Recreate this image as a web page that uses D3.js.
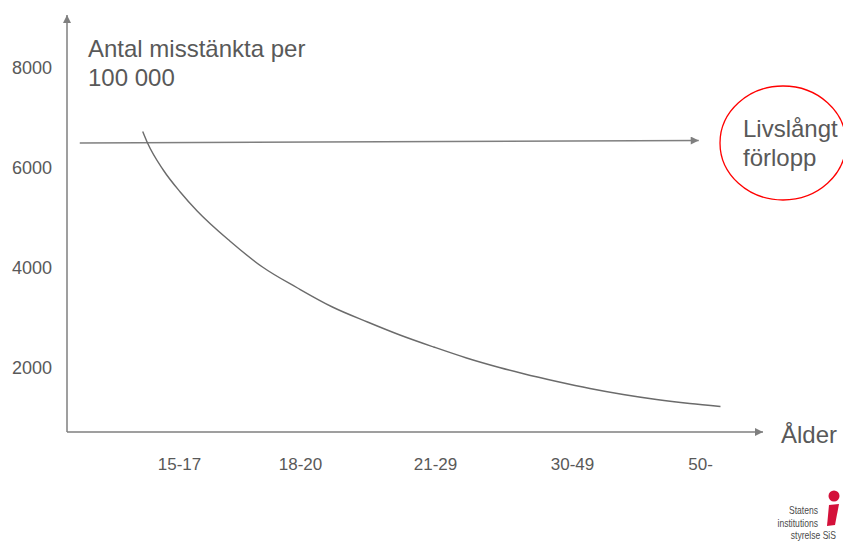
<!DOCTYPE html>
<html>
<head>
<meta charset="utf-8">
<script src="https://cdn.jsdelivr.net/npm/d3@7"></script>
<style>
  html, body { margin: 0; padding: 0; background: #fff; }
  svg { display: block; font-family: "Liberation Sans", Arial, sans-serif; }
</style>
</head>
<body>
<svg id="chart" width="843" height="545"></svg>
<script>
// Age groups along the horizontal axis
const ageGroups = ["15-17", "18-20", "21-29", "30-49", "50-"];
// Y tick values (suspects per 100 000)
const yTicks = [2000, 4000, 6000, 8000];
// Curve of suspects per 100 000, positions given in age-group units (0 = "15-17")
const curvePos = [-0.30, -0.26, -0.13, 0.01, 0.15, 0.42, 0.69, 0.98, 1.24, 1.50, 1.74, 1.99, 2.23, 2.47, 2.64, 2.89, 3.14, 3.40, 3.66, 3.92, 4.16];
const curveVal = [6730, 6500, 5960, 5520, 5140, 4540, 4020, 3600, 3220, 2920, 2660, 2420, 2200, 2010, 1890, 1730, 1590, 1470, 1370, 1290, 1230];
// Lifelong-course reference arrow (start / end position and level)
const lifelongPos = [-0.82, 3.99];
const lifelongVal = [6500, 6550];

const grey = "#595959";
const lineGrey = "#7f7f7f";

const svg = d3.select("#chart");

const x = d3.scaleLinear()
  .domain([0, 1, 2, 3, 4])
  .range([179, 300, 435, 572, 700]);

const y = d3.scaleLinear()
  .domain([2000, 8000])
  .range([368, 68]);

const axisY0 = 432;   // baseline of the drawn x axis
const axisX0 = 67;    // position of the drawn y axis

// arrow marker
const defs = svg.append("defs");
defs.append("marker")
  .attr("id", "arrow")
  .attr("viewBox", "0 0 10 10")
  .attr("refX", 10).attr("refY", 5)
  .attr("markerWidth", 9).attr("markerHeight", 8)
  .attr("markerUnits", "userSpaceOnUse")
  .attr("orient", "auto")
  .append("path")
  .attr("d", "M0,0 L10,5 L0,10 Z")
  .attr("fill", lineGrey);

// y axis line with arrow
svg.append("line")
  .attr("x1", axisX0).attr("y1", axisY0)
  .attr("x2", axisX0).attr("y2", 15)
  .attr("stroke", lineGrey).attr("stroke-width", 1.5)
  .attr("marker-end", "url(#arrow)");

// x axis line with arrow
svg.append("line")
  .attr("x1", axisX0).attr("y1", axisY0)
  .attr("x2", 763).attr("y2", axisY0)
  .attr("stroke", lineGrey).attr("stroke-width", 1.5)
  .attr("marker-end", "url(#arrow)");

// y tick labels
const yAxis = d3.axisLeft(y).tickValues(yTicks).tickSize(0).tickPadding(0).tickFormat(d3.format("d"));
const gy = svg.append("g").attr("transform", "translate(52,0)").call(yAxis);
gy.select(".domain").remove();
gy.selectAll("text")
  .attr("fill", grey)
  .attr("font-size", 18)
  .attr("font-family", "Liberation Sans, Arial, sans-serif");

// x tick labels
const xAxis = d3.axisBottom(x).tickValues([0, 1, 2, 3, 4]).tickSize(0).tickPadding(0)
  .tickFormat(i => ageGroups[i]);
const gx = svg.append("g").attr("transform", "translate(0,458)").call(xAxis);
gx.select(".domain").remove();
gx.selectAll("text")
  .attr("fill", grey)
  .attr("font-size", 17)
  .attr("dy", "0.71em")
  .attr("font-family", "Liberation Sans, Arial, sans-serif");

// lifelong-course arrow
svg.append("line")
  .attr("x1", x(lifelongPos[0])).attr("y1", y(lifelongVal[0]))
  .attr("x2", x(lifelongPos[1])).attr("y2", y(lifelongVal[1]))
  .attr("stroke", lineGrey).attr("stroke-width", 1.5)
  .attr("marker-end", "url(#arrow)");

// suspects curve
const pts = curvePos.map((p, i) => [p, curveVal[i]]);
svg.append("path")
  .datum(pts)
  .attr("fill", "none")
  .attr("stroke", "#6b6b6b")
  .attr("stroke-width", 1.4)
  .attr("d", d3.line().x(d => x(d[0])).y(d => y(d[1])).curve(d3.curveMonotoneX));

// titles
const title = svg.append("text")
  .attr("fill", grey).attr("font-size", 24);
title.append("tspan").attr("x", 88).attr("y", 57).text("Antal misstänkta per");
title.append("tspan").attr("x", 88).attr("y", 86).text("100 000");

svg.append("text")
  .attr("x", 781).attr("y", 443)
  .attr("fill", grey).attr("font-size", 24)
  .text("Ålder");

// red ellipse annotation
svg.append("ellipse")
  .attr("cx", 783).attr("cy", 143)
  .attr("rx", 63).attr("ry", 57)
  .attr("fill", "none")
  .attr("stroke", "#ff0000")
  .attr("stroke-width", 1.3);

const note = svg.append("text").attr("fill", grey).attr("font-size", 24);
note.append("tspan").attr("x", 743).attr("y", 137).text("Livslångt");
note.append("tspan").attr("x", 743).attr("y", 166).text("förlopp");

// organisation logo (condensed wordmark + red "i")
const logo = svg.append("g");
const logoLines = [["Statens", 514, 818], ["institutions", 527, 818], ["styrelse SiS", 539, 836]];
logoLines.forEach(([t, yy, xx]) => {
  logo.append("g")
    .attr("transform", `translate(${xx},${yy}) scale(0.78,1)`)
    .append("text")
    .attr("x", 0).attr("y", 0)
    .attr("text-anchor", "end")
    .attr("font-size", 11)
    .attr("fill", "#4a4a4a")
    .text(t);
});
logo.append("circle").attr("cx", 834).attr("cy", 496).attr("r", 5.5).attr("fill", "#d4113a");
logo.append("path")
  .attr("d", "M829,505 L839,504 L835,525 L827,526 Z")
  .attr("fill", "#d4113a");
</script>
</body>
</html>
